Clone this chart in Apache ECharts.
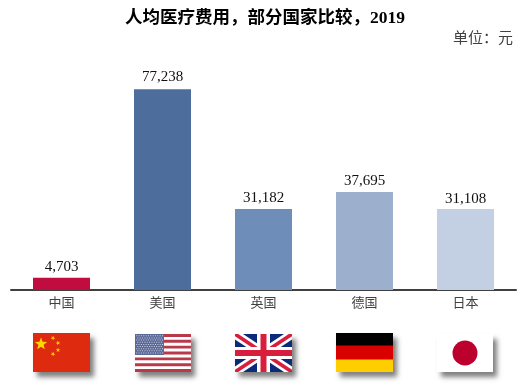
<!DOCTYPE html>
<html><head><meta charset="utf-8">
<style>html,body{margin:0;padding:0;background:#fff}#c{width:532px;height:388px}</style>
<script src="https://cdn.jsdelivr.net/npm/echarts@6/dist/echarts.min.js"></script>
</head><body><div id="c"></div>
<script>
const categories = ['中国','美国','英国','德国','日本'];
const values = [4703,77238,31182,37695,31108];
const barColors = ['#c00c3f','#4d6d9c','#6f8db9','#9cb0ce','#c3cfe2'];
const flags = ['cn','us','gb','de','jp'];
const FONT = '"Liberation Serif","Noto Sans CJK SC",serif';
const W = 57, H = 38;
const shadow = {shadowBlur:5, shadowOffsetX:4, shadowOffsetY:5, shadowColor:'rgba(0,0,0,0.5)'};
function rect(x,y,w,h,fill,extra){return {type:'rect',shape:{x,y,width:w,height:h},style:Object.assign({fill},extra||{})};}
function poly(points,fill){return {type:'polygon',shape:{points},style:{fill}};}
function star(cx,cy,r,fill,rot){
  const p=[];for(let i=0;i<10;i++){const a=-Math.PI/2+(rot||0)+i*Math.PI/5,q=i%2?r*0.42:r;p.push([cx+q*Math.cos(a),cy+q*Math.sin(a)]);}
  return poly(p,fill);
}
const draw = {
  cn(){return [rect(0,-1,W,39,'#de2b10',shadow),star(8,10,6.5,'#ffd800'),star(20,4,2.4,'#ffc800',.5),star(25,9,2.4,'#ffc800',.9),star(25,16,2.4,'#ffc800',0),star(20,20,2.4,'#ffc800',.5)];},
  us(){
    const out=[rect(1,0,56,38,'#ffffff',shadow)];
    for(let i=0;i<7;i++)out.push(rect(1,i*5.85,56,2.92,'#b83a4a'));
    out.push(rect(1,0,29,21,'#5a6898'));
    for(let r=0;r<9;r++)for(let c=0;c<(r%2?11:12);c++)out.push(rect(2.2+c*2.35+(r%2?1.15:0),1.3+r*2.15,1,1,'#d0d4e6'));
    return out;
  },
  gb(){
    const n='#0b2a7a',w='#ffffff',r='#d81e3c';
    const d=(a,b,col)=>[poly([[0,0],[a,0],[W,H-b],[W,H],[W-a,H],[0,b]],col),poly([[W,0],[W-a,0],[0,H-b],[0,H],[a,H],[W,b]],col)];
    return [rect(0,0,W,H,n,shadow),...d(8,5.5,w),...d(3.2,2.2,r),
      rect(22,0,13,H,w),rect(0,13,W,12,w),rect(25.5,0,6,H,r),rect(0,16,W,6,r)];
  },
  de(){return [rect(0,-1,W,39,'#d90000',shadow),rect(0,-1,W,12.5,'#000000'),rect(0,25.5,W,12.5,'#ffce00')];},
  jp(){return [rect(0,0,56,38,'#ffffff',shadow),{type:'circle',shape:{cx:28,cy:19,r:12.5},style:{fill:'#bc002d'}}];}
};
const chart = echarts.init(document.getElementById('c'),null,{renderer:'canvas'});
chart.setOption({
  animation:false,
  backgroundColor:'#ffffff',
  title:[
    {text:'人均医疗费用，部分国家比较，2019',left:260,top:5,textAlign:'center',textStyle:{fontFamily:FONT,fontSize:17.5,fontWeight:'bold',color:'#000'}},
    {text:'单位：元',right:14,top:27,textStyle:{fontFamily:FONT,fontSize:15,fontWeight:'normal',color:'#404040'}}
  ],
  grid:{left:11,right:16,top:82,height:208,containLabel:false},
  xAxis:{type:'category',data:categories,
    axisLine:{lineStyle:{color:'#404040',width:2}},axisTick:{show:false},
    axisLabel:{margin:7,fontFamily:FONT,fontSize:13,color:'#404040'}},
  yAxis:{type:'value',min:0,max:80000,show:false,splitLine:{show:false}},
  series:[
    {type:'bar',barWidth:57,z:1,
     data:values.map((v,i)=>({value:v,itemStyle:{color:barColors[i]},label:{distance:i===1?5:3}})),
     label:{show:true,position:'top',fontFamily:FONT,fontSize:15,color:'#111',
       formatter:p=>p.value.toLocaleString('en-US')}},
    {type:'custom',silent:true,clip:false,z:3,
     data:categories.map((c,i)=>[i,0]),
     renderItem(params,api){
       const p=api.coord([api.value(0),0]);
       return {type:'group',x:p[0]-W/2,y:p[1]+44,children:draw[flags[params.dataIndex]]()};
     }}
  ]
});
</script></body></html>
